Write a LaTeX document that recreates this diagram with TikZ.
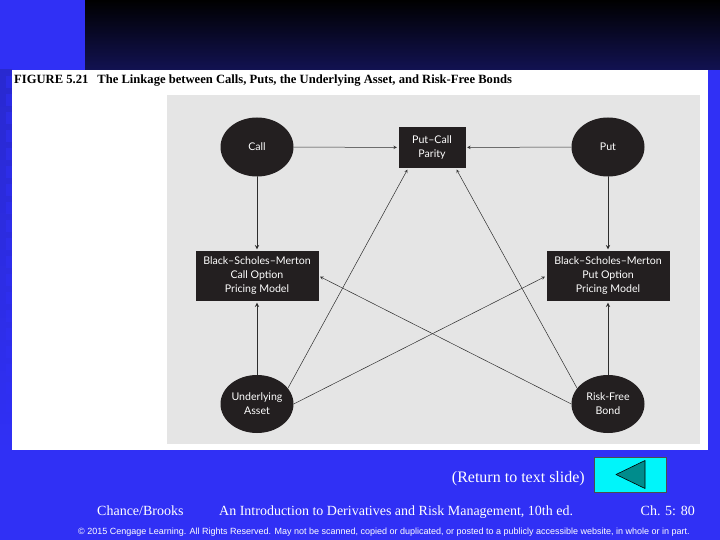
\documentclass[tikz,border=0pt]{standalone}
\usepackage{fontspec}
\setmainfont{Liberation Serif}
\newfontfamily\nodefont{Lato}
\newfontfamily\copyfont{Liberation Sans}
\usetikzlibrary{shapes.geometric}
\definecolor{slideblue}{RGB}{48,48,245}
\definecolor{topnavy}{RGB}{18,18,82}
\definecolor{panelgray}{RGB}{229,229,229}
\definecolor{boxblack}{RGB}{35,31,32}
\definecolor{linegray}{RGB}{45,45,45}
\definecolor{btncyan}{RGB}{0,245,250}
\definecolor{btnteal}{RGB}{0,140,140}
\begin{document}
\begin{tikzpicture}[x=1pt,y=-1pt,line join=round,line cap=round,>=stealth]
\tikzset{every node/.style={inner sep=0pt},
  oval/.style={ellipse,fill=boxblack,text=white,minimum width=73pt,minimum height=59pt,align=center,font=\nodefont\fontsize{10.6}{14}\selectfont},
  model/.style={rectangle,fill=boxblack,text=white,align=center,font=\nodefont\fontsize{10.6}{14}\selectfont},
  link/.style={->,draw=linegray,line width=0.5pt,shorten >=1.5pt},
  feed/.style={->,draw=linegray,line width=0.9pt,shorten >=1.5pt},
  foot/.style={text=white,font=\fontsize{14}{16}\selectfont}}
\useasboundingbox (0,0) rectangle (720,540);
\fill[slideblue] (0,0) rectangle (720,540);
\shade[top color=black,bottom color=topnavy] (85,0) rectangle (720,70);
\shade[top color=slideblue!85!black,middle color=black,bottom color=slideblue] (0,70) rectangle (12,450);
\foreach \y in {76,94,...,436}
  \fill[slideblue,opacity=0.55] (6,\y) rectangle (12,\y+12);
\fill[white] (12,70) rectangle (708,450);
\fill[panelgray] (167,95) rectangle (700,444);
\node[anchor=base west,font=\bfseries\fontsize{12.6}{14}\selectfont] (title) at (14,84)
  {FIGURE 5.21\hspace{9pt}The Linkage between Calls, Puts, the Underlying Asset, and Risk-Free Bonds};
\node[oval] (call) at (257,147) {Call};
\node[oval] (put) at (608,147) {Put};
\node[model,minimum width=67pt,minimum height=41pt] (pcp) at (432,147.5) {Put–Call\\Parity};
\node[model,minimum width=123pt,minimum height=50pt] (bsmc) at (257,276) {Black–Scholes–Merton\\Call Option\\Pricing Model};
\node[model,minimum width=123pt,minimum height=50pt] (bsmp) at (608,276) {Black–Scholes–Merton\\Put Option\\Pricing Model};
\node[oval,minimum height=58pt] (ua) at (257,404) {Underlying\\Asset};
\node[oval,minimum height=58pt] (rf) at (608,404) {Risk-Free\\Bond};
\draw[link] (call) -- (pcp);
\draw[link] (put) -- (pcp);
\draw[feed] (call) -- (bsmc);
\draw[feed] (put) -- (bsmp);
\draw[feed] (ua) -- (bsmc);
\draw[feed] (rf) -- (bsmp);
\draw[link] (ua.27) -- (pcp.221);
\draw[link] (rf.153) -- (pcp.319);
\draw[link] (ua.east) -- (bsmp.west);
\draw[link] (rf.west) -- (bsmc.east);
\node[anchor=base east,text=white,font=\fontsize{16}{18}\selectfont] (back) at (585,482) {(Return to text slide)};
\node[rectangle,fill=btncyan,draw=black!70,line width=0.6pt,minimum width=72pt,minimum height=35pt] (btn) at (630,474.5) {};
\fill[btnteal,draw=black,line width=0.6pt] ([xshift=-14pt]btn.center) -- ([xshift=15pt,yshift=14pt]btn.center) -- ([xshift=15pt,yshift=-14pt]btn.center) -- cycle;
\node[anchor=base west,foot] (authors) at (97,515) {Chance/Brooks};
\node[anchor=base west,foot] (book) at (219,515) {An Introduction to Derivatives and Risk Management, 10th ed.};
\node[anchor=base east,foot] (chap) at (695,515) {Ch. 5: 80};
\node[anchor=base,text=white,font=\copyfont\fontsize{9}{10}\selectfont] (rights) at (384,534)
  {© 2015 Cengage Learning. All Rights Reserved. May not be scanned, copied or duplicated, or posted to a publicly accessible website, in whole or in part.};
\end{tikzpicture}
\end{document}
